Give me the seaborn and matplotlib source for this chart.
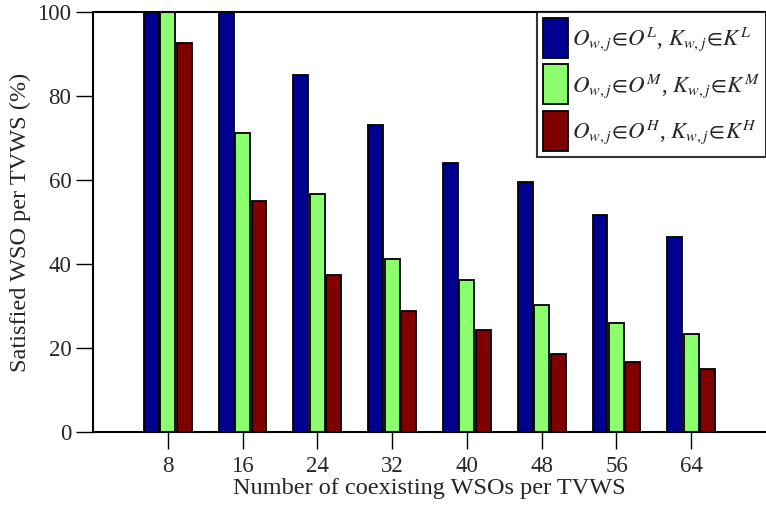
import pandas as pd
import matplotlib
matplotlib.use('Agg')
import matplotlib.pyplot as plt
import seaborn as sns

# datos
wsos = [8, 16, 24, 32, 40, 48, 56, 64]
low = [100, 100, 85.0, 73.0, 64.0, 59.5, 51.7, 46.4]
medium = [100, 71.2, 56.6, 41.2, 36.3, 30.3, 25.9, 23.3]
high = [92.6, 55.0, 37.4, 28.7, 24.4, 18.6, 16.7, 14.9]

labels = [r'$O_{w,j}\!\in\! O^{L}$, $K_{w,j}\!\in\! K^{L}$',
          r'$O_{w,j}\!\in\! O^{M}$, $K_{w,j}\!\in\! K^{M}$',
          r'$O_{w,j}\!\in\! O^{H}$, $K_{w,j}\!\in\! K^{H}$']
colors = ['#000090', '#8CFF6E', '#800000']

df = pd.DataFrame({
    'wso': wsos * 3,
    'value': low + medium + high,
    'group': [labels[0]] * 8 + [labels[1]] * 8 + [labels[2]] * 8,
})

sns.set_style('white')
plt.rcParams['font.family'] = ['Liberation Serif', 'DejaVu Serif']
plt.rcParams['mathtext.fontset'] = 'stix'

fig = plt.figure(figsize=(7.66, 5.09), dpi=100)
ax = fig.add_axes([0.1214, 0.1513, 0.8786, 0.8251])

sns.barplot(data=df, x='wso', y='value', hue='group', hue_order=labels,
            palette=colors, width=0.66, gap=0.1, edgecolor='black',
            linewidth=1.3, saturation=1, ax=ax)

ax.set_xlim(-1, 8)
ax.set_ylim(0, 100)
ax.set_yticks([0, 20, 40, 60, 80, 100])
ax.tick_params(axis='both', direction='out', length=12, width=1,
               labelsize=16.5, left=True, bottom=True, color='black')
ax.tick_params(axis='x', pad=5)
ax.set_xlabel('Number of coexisting WSOs per TVWS', fontsize=17.5, labelpad=1)
ax.set_ylabel('Satisfied WSO per TVWS (%)', fontsize=17.5, labelpad=5)

for side in ['left', 'bottom', 'top']:
    ax.spines[side].set_color('black')
    ax.spines[side].set_linewidth(1.5)
ax.spines['right'].set_visible(False)

leg = ax.legend(loc='upper right', bbox_to_anchor=(1.0, 1.0), borderaxespad=0,
                fontsize=16.5, frameon=True, fancybox=False, edgecolor='black',
                handlelength=1.1, handleheight=2.3, handletextpad=0.15,
                labelspacing=0.3, borderpad=0.25)
leg.get_frame().set_linewidth(1.5)

fig.savefig('out.png', dpi=100)
